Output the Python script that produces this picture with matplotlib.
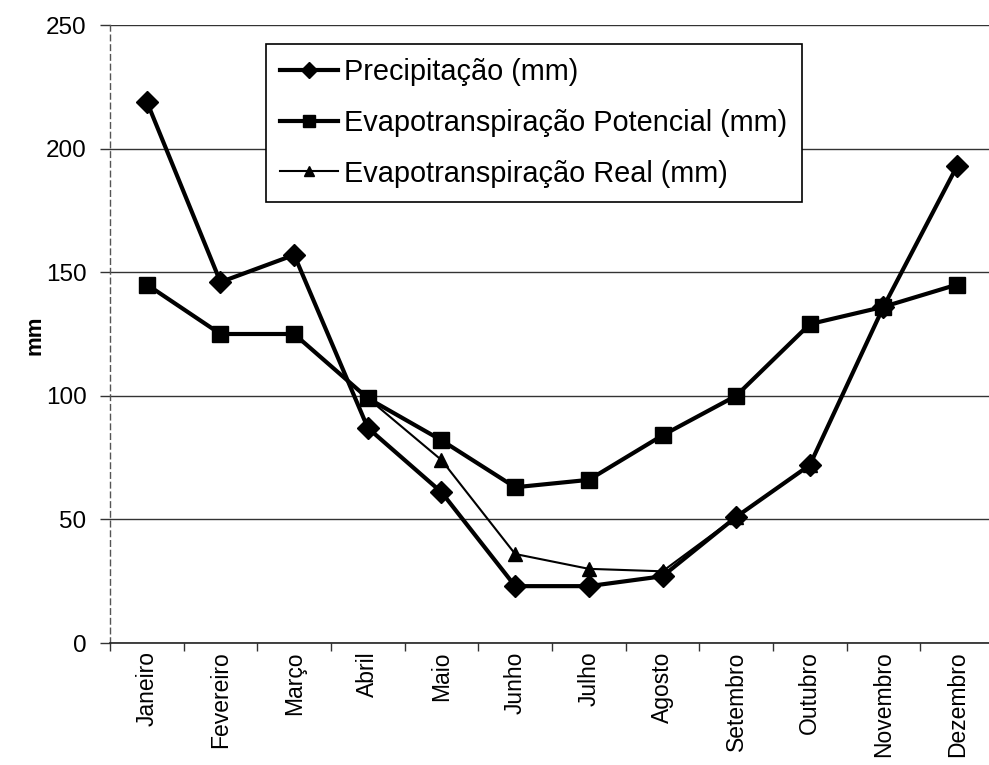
import matplotlib
matplotlib.use("Agg")
import matplotlib.pyplot as plt
import numpy as np

meses = ["Janeiro", "Fevereiro", "Março", "Abril", "Maio", "Junho", "Julho",
         "Agosto", "Setembro", "Outubro", "Novembro", "Dezembro"]
precipitacao = [219, 146, 157, 87, 61, 23, 23, 27, 51, 72, 136, 193]
etp = [145, 125, 125, 99, 82, 63, 66, 84, 100, 129, 136, 145]
etr = [145, 125, 125, 99, 74, 36, 30, 29, 51, 72, 136, 145]
yticks = [0, 50, 100, 150, 200, 250]

plt.rcParams['font.family'] = ['Liberation Sans', 'DejaVu Sans']

W, H = 989, 765
fig = plt.figure(figsize=(W / 100, H / 100), dpi=100)
left, right, top, bottom = 110, 994, 25, 643
ax = fig.add_axes([left / W, 1 - bottom / H, (right - left) / W, (bottom - top) / H])

x = np.arange(len(meses))
ax.plot(x, precipitacao, color='black', lw=3, marker='D', markersize=11,
        label='Precipitação (mm)', zorder=3)
ax.plot(x, etp, color='black', lw=3, marker='s', markersize=11,
        label='Evapotranspiração Potencial (mm)', zorder=4)
ax.plot(x, etr, color='black', lw=1.5, marker='^', markersize=10,
        label='Evapotranspiração Real (mm)', zorder=5)

ax.set_xlim(-0.5, len(meses) - 0.5)
ax.set_ylim(0, 250)
ax.set_yticks(yticks)
ax.set_yticklabels([str(v) for v in yticks], fontsize=17.5)
ax.yaxis.grid(True, color='#333333', lw=1.0)
ax.set_axisbelow(True)
ax.tick_params(axis='y', length=7, width=1, color='#333333', pad=10)

ax.set_xticks(x)
ax.set_xticklabels(meses, rotation=90, fontsize=16.5)
ax.tick_params(axis='x', which='major', length=0, pad=6)
ax.set_xticks(np.arange(-0.5, len(meses), 1), minor=True)
ax.tick_params(axis='x', which='minor', length=6, width=1, color='#333333')

for s in ['top', 'right']:
    ax.spines[s].set_visible(False)
ax.spines['bottom'].set_color('#222222')
ax.spines['bottom'].set_linewidth(1.2)
ax.spines['left'].set_color('#555555')
ax.spines['left'].set_linewidth(1.0)
ax.spines['left'].set_linestyle((0, (4, 3)))

ax.set_ylabel('mm', fontsize=16, fontweight='bold')
ax.yaxis.set_label_coords((45 - left) / (right - left), (bottom - 335) / (bottom - top))

leg = ax.legend(loc='upper left', bbox_to_anchor=((266 - left) / (right - left), 1 - (44 - top) / (bottom - top)),
                fontsize=20.8, frameon=True, fancybox=False, edgecolor='black',
                handlelength=2.0, handletextpad=0.2, borderpad=0.5, labelspacing=0.78,
                borderaxespad=0, markerscale=0.75)
leg.get_frame().set_linewidth(1.2)
leg.get_frame().set_alpha(1)

fig.savefig('out.png', dpi=100)
